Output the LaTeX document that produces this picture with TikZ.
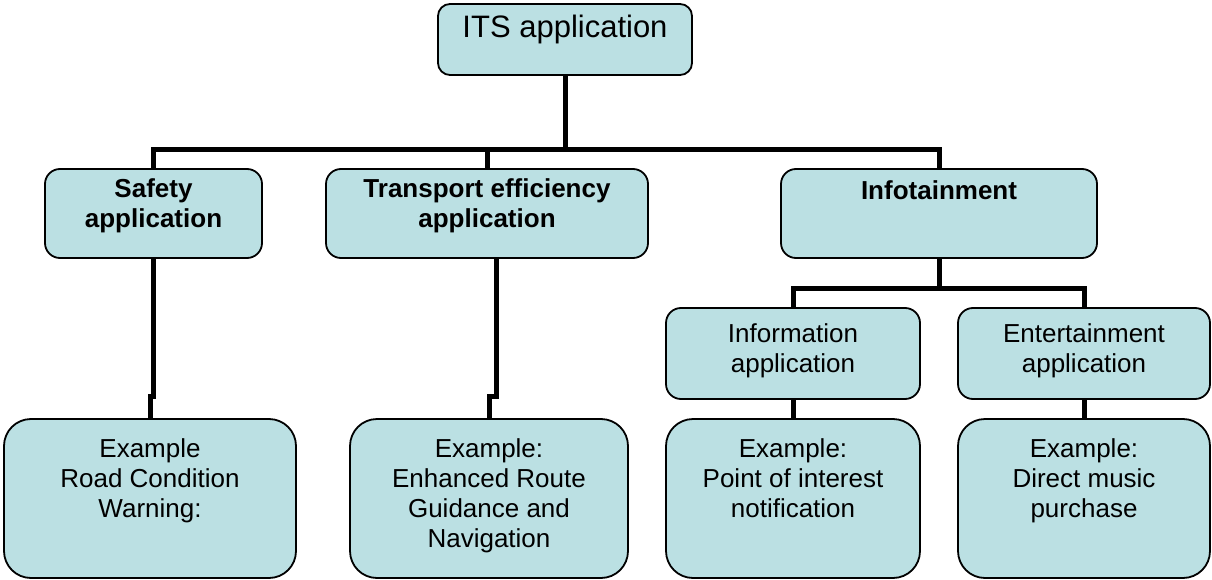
\documentclass[tikz,border=0pt]{standalone}
\usepackage{fontspec}
\setmainfont{Liberation Sans}
\usetikzlibrary{backgrounds}
\definecolor{boxfill}{RGB}{187,224,227}
\begin{document}
\begin{tikzpicture}[x=1pt,y=-1pt,
  box/.style={rectangle, draw=black, line width=1.8pt, fill=boxfill,
    rounded corners=#1, inner sep=0pt},
  box/.default=15pt,
  txt/.style={inner sep=0pt, align=center, anchor=north,
    font=\fontsize{26}{30}\selectfont, execute at begin node=\strut},
  conn/.style={draw=black, line width=5pt, line join=miter}]
\useasboundingbox (0,0) rectangle (1212,580);

% root
\node[box=12pt, minimum width=254pt, minimum height=71pt] (its) at (565,39.5) {};
\node[txt, font=\fontsize{31}{36}\selectfont] (its-t) at ([yshift=-8.8pt]its.north) {ITS application};

% second level
\node[box, minimum width=217pt, minimum height=89pt] (safety) at (153.5,213.5) {};
\node[txt, font=\bfseries\fontsize{26}{30}\selectfont] (safety-t) at ([yshift=-10pt]safety.north) {Safety\\application};

\node[box, minimum width=322pt, minimum height=89pt] (transport) at (487,213.5) {};
\node[txt, font=\bfseries\fontsize{26}{30}\selectfont] (transport-t) at ([yshift=-10pt]transport.north) {Transport efficiency\\application};

\node[box, minimum width=316pt, minimum height=89pt] (infot) at (939,213.5) {};
\node[txt, font=\bfseries\fontsize{26}{30}\selectfont] (infot-t) at ([yshift=-10pt]infot.north) {Infotainment};

% infotainment branches
\node[box, minimum width=254pt, minimum height=91pt] (information) at (793,353.5) {};
\node[txt] (information-t) at ([yshift=-16pt]information.north) {Information\\application};

\node[box, minimum width=252pt, minimum height=91pt] (entertainment) at (1084,353.5) {};
\node[txt] (entertainment-t) at ([yshift=-16pt]entertainment.north) {Entertainment\\application};

% examples
\node[box=27pt, minimum width=292pt, minimum height=159pt] (safex) at (150,498.5) {};
\node[txt] (safex-t) at ([yshift=-20pt]safex.north) {Example\\Road Condition\\Warning:};

\node[box=27pt, minimum width=278pt, minimum height=159pt] (transex) at (489,498.5) {};
\node[txt] (transex-t) at ([yshift=-20pt]transex.north) {Example:\\Enhanced Route\\Guidance and\\Navigation};

\node[box=27pt, minimum width=254pt, minimum height=159pt] (infoex) at (793,498.5) {};
\node[txt] (infoex-t) at ([yshift=-20pt]infoex.north) {Example:\\Point of interest\\notification};

\node[box=27pt, minimum width=252pt, minimum height=159pt] (entex) at (1084,498.5) {};
\node[txt] (entex-t) at ([yshift=-20pt]entex.north) {Example:\\Direct music\\purchase};

% connector levels
\coordinate (bus) at (0,150);
\coordinate (fork) at (0,288);
\coordinate (jog) at (0,396);
\coordinate (tr-out) at ([xshift=9pt]transport.south);

\begin{pgfonlayer}{background}
\draw[conn] (its.south) -- (its.south |- bus);
\draw[conn] (safety.north) -- (safety.north |- bus) -- (infot.north |- bus) -- (infot.north);
\draw[conn] (transport.north |- bus) -- (transport.north);
\draw[conn] (safety.south) -- (safety.south |- jog) -| (safex.north);
\draw[conn] (tr-out) -- (tr-out |- jog) -| (transex.north);
\draw[conn] (infot.south) -- (infot.south |- fork);
\draw[conn] (information.north) -- (information.north |- fork) -- (entertainment.north |- fork) -- (entertainment.north);
\draw[conn] (information.south) -- (infoex.north);
\draw[conn] (entertainment.south) -- (entex.north);
\end{pgfonlayer}
\end{tikzpicture}
\end{document}
